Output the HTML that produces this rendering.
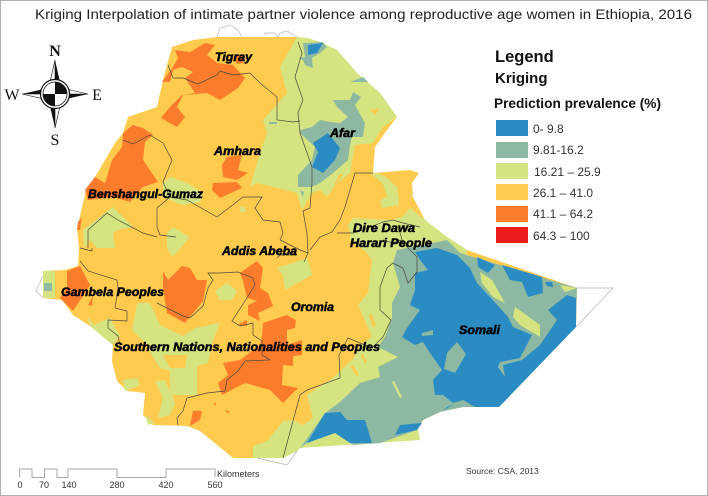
<!DOCTYPE html>
<html><head><meta charset="utf-8"><title>Kriging map</title>
<style>
html,body{margin:0;padding:0;background:#fff;width:708px;height:496px;overflow:hidden}
svg{display:block;font-family:"Liberation Sans",sans-serif}
.y{fill:#fecb4f}.g{fill:#d5e480}.t{fill:#8db9a2}.b{fill:#2b8cc4}.o{fill:#fb7d2c}
.line{fill:none;stroke:#4a4a3c;stroke-width:.7}
.out{fill:none;stroke:#b4b4b4;stroke-width:.7}
.lab{font-weight:bold;font-style:italic;font-size:11.5px;fill:#000;stroke:#000;stroke-width:.5}
.leg{font-size:12px;fill:#333}
.sc{font-size:9px;fill:#333}
</style></head><body>
<svg width="708" height="496" viewBox="0 0 708 496">
<rect x="0.5" y="0.5" width="707" height="495" fill="#fff" stroke="#b0b0b0"/>
<text x="35" y="19" font-size="14.2" fill="#222" textLength="657" lengthAdjust="spacingAndGlyphs">Kriging Interpolation of intimate partner violence among reproductive age women in Ethiopia, 2016</text>

<g>
<polygon class="y" points="172,47 193,40 217,37 297,37 307,38 320,42 337,50 357,73 380,93 397,117 387,130 375,147 373,173 410,170 419,173 412,183 413,197 425,220 447,237 467,250 577,288 576,327 499,407 463,407 440,412 423,420 417,430 397,437 380,443 353,445 335,433 300,448 297,451 283,458 233,458 200,431 187,426 153,425 143,415 145,393 127,391 117,381 112,361 113,345 90,326 73,315 62,300 43,298 43,271 65,270 78,266 79,248 77,230 82,207 86,190 95,177 115,143 123,133 128,117 157,107 163,80"/>

<g>
<polygon class="g" points="297,37 307,38 320,42 337,50 357,73 380,93 397,117 383,127 373,143 355,145 350,173 337,183 327,197 320,190 312,193 302,210 297,193 273,187 257,183 250,187 260,153 267,133 263,120 287,93 280,67"/>
<polygon class="g" points="370,173 380,174 387,178 397,187 399,205 382,208 380,201 387,196 383,184"/>
<polygon class="g" points="402,217 410,208 425,220 447,237 467,250 467,262 420,300 400,330 420,440 300,448 297,451 283,458 253,458 253,446 267,441 283,421 293,420 303,425 313,418 307,395 333,378 354,358 360,345 372,337 358,305 368,293 372,260 367,253 350,240 350,233 348,225 353,218 390,220"/>
<polygon class="g" points="410,190 413,197 411,198"/>
<polygon class="g" points="163,183 170,177 187,183 203,193 200,202 182,205 163,197"/>
<polygon class="g" points="83,230 113,207 123,217 133,227 118,230 113,233 115,248 97,248 90,240 84,248"/>
<polygon class="g" points="167,233 173,227 190,237 178,251 172,257 167,248"/>
<polygon class="g" points="240,207 245,207 245,212 240,212"/>
<polygon class="g" points="137,303 150,303 160,325 183,336 195,328 220,323 213,341 208,363 197,366 197,395 170,395 170,371 160,368 152,355 147,345 132,330 135,315"/>
<polygon class="y" points="163,355 187,355 185,368 170,368"/>
<polygon class="g" points="123,380 137,378 140,385 125,391"/>
<polygon class="g" points="155,381 165,380 175,403 170,415 158,418 163,398"/>
<polygon class="g" points="145,415 155,423 148,425"/>
<polygon class="g" points="87,315 93,325 110,318 120,336 113,345 90,326"/>
<polygon class="g" points="215,291 227,283 237,291 232,300 220,300"/>
<polygon class="g" points="277,268 293,263 307,258 312,275 285,290 283,275"/>
<polygon class="g" points="43,271 55,271 55,298 43,298"/>
</g>

<g>
<polygon class="t" points="397,250 447,240 460,253 577,288 576,327 499,407 463,407 440,412 423,420 417,430 397,437 380,443 353,445 335,433 307,443 300,448 308,437 325,413 340,402 360,383 380,377 378,367 398,357 378,347 385,337 392,318 392,303 400,287 393,263"/>
<polygon class="t" points="303,43 323,42 327,47 320,53 312,58 313,68 305,65 303,60 298,58 305,57"/>
<polygon class="t" points="350,82 363,77 368,82"/>
<polygon class="t" points="333,100 350,100 353,92 361,97 355,105 365,123 363,137 352,137 350,145 348,160 333,173 320,183 312,187 298,187 298,175 312,160 315,147 300,133 300,130 312,127 320,120 330,122 340,123 348,117 337,107"/>
<polygon class="t" points="300,190 304,192 303,197"/>
<polygon class="t" points="44,283 52,283 52,291 44,291"/>
<rect x="269" y="122" width="8" height="2" class="t"/>
</g>

<g>
<polygon class="b" points="415,252 437,248 457,255 470,268 477,283 490,297 500,308 508,317 513,327 532,335 520,358 500,362 498,367 505,377 503,365 522,360 540,345 557,320 548,310 567,295 576,298 576,327 499,407 475,407 463,400 453,403 443,395 435,395 433,380 442,370 430,353 423,342 415,345 402,337 407,328 420,310 410,305 415,290 415,273 428,270 420,260"/>
<polygon class="t" points="457,342 466,354 455,373 444,369 447,353"/>
<polygon class="t" points="422,333 433,330 433,335 422,336"/>
<polygon class="b" points="477,257 495,265 488,273 478,267"/>
<polygon class="b" points="502,265 542,277 543,293 528,297 522,282 510,280"/>
<polygon class="b" points="545,282 552,282 553,287 547,286"/>
<polygon class="g" points="480,272 492,280 505,303 493,297 482,283"/>
<polygon class="g" points="515,307 540,325 540,337 520,325 513,317"/>
<polygon class="g" points="560,285 577,288 565,292"/>
<polygon class="b" points="307,443 325,413 340,412 347,420 365,420 372,443 350,443 335,433"/>
<polygon class="b" points="395,435 400,425 422,423 417,430"/>
<polygon class="b" points="443,411 447,407 454,404"/>
<polygon class="b" points="410,412 420,393 411,410"/>
<polygon class="g" points="392,382 394,381 402,397 400,398"/>
<polygon class="b" points="308,45 323,43 317,53 308,55"/>
<polygon class="b" points="313,143 328,133 340,148 335,160 323,173 312,167 318,152"/>
</g>

<g>
<polygon class="y" points="370,110 380,108 375,115"/>
<polygon class="y" points="340,173 343,175 333,188"/>
<polygon class="y" points="369,315 372,314 376,326 373,327"/>
<polygon class="y" points="361,355 363,354 367,362 365,363"/>
<polygon class="y" points="350,366 353,365 359,375 356,376"/>
</g>

<g>
<polygon class="o" points="175,50 190,52 205,43 215,45 207,55 217,63 233,65 245,78 238,88 220,100 207,93 183,95 177,107 185,117 177,127 161,118 170,107 182,95 195,93 185,78 193,72 182,67 173,70 170,82 162,82 173,67 178,58"/>
<polygon class="o" points="233,57 245,55 243,63 237,64"/>
<polygon class="o" points="133,125 143,128 153,135 145,142 143,160 158,182 143,187 130,202 113,197 88,200 85,190 95,177 105,183 112,160 122,147 123,133"/>
<polygon class="o" points="227,157 242,155 238,170 248,173 237,180 223,177 222,165"/>
<polygon class="o" points="213,183 237,182 242,188 220,198 212,190"/>
<polygon class="o" points="78,222 82,217 80,230 77,230"/>
<polygon class="o" points="67,271 80,266 90,285 77,305 73,311 60,298 67,288"/>
<polygon class="o" points="88,305 93,296 92,306"/>
<polygon class="o" points="163,271 168,280 182,266 190,268 197,280 207,280 203,301 193,313 185,323 167,313 163,288"/>
<polygon class="o" points="240,273 257,261 263,268 260,288 268,293 273,306 258,313 260,321 248,315 248,305 257,301 247,298 243,281"/>
<polygon class="o" points="237,325 247,320 247,326"/>
<polygon class="o" points="263,323 287,315 296,320 295,328 287,330 287,345 302,340 302,355 293,356 293,366 283,365 282,385 298,388 283,403 270,390 245,383 222,395 218,383 228,375 223,363 240,360 260,345 262,336"/>
<polygon class="o" points="193,411 202,411 200,420 190,426"/>
<polygon class="o" points="214,403 216,403 216,405 214,405"/>
<polygon class="o" points="225,410 229,411 229,414"/>
</g>

<g>
<polyline class="line" points="168,65 173,78 183,78 198,84 217,75 220,71 233,75 250,73 260,83 277,97 277,120 293,122 300,121"/>
<polyline class="line" points="298,42 302,53 295,77 303,100 298,113 300,133 312,167 312,183 310,208 303,211 307,233 308,253 304,262"/>
<polyline class="line" points="123,140 133,144 150,135 163,143 172,160 163,182 170,197 157,208 157,227 160,235 176,237"/>
<polyline class="line" points="170,197 187,200 217,217 243,197 262,197 255,208 263,220 280,222 283,233 280,240 300,250 308,253"/>
<polyline class="line" points="88,248 88,230 107,213 118,220 143,233 157,237"/>
<polyline class="line" points="80,248 92,251 92,248"/>
<polyline class="line" points="277,258 280,255 296,255"/>
<polyline class="line" points="80,261 88,271 117,280 118,288 115,308 127,311 127,321 108,320 108,328 118,336 120,345"/>
<polyline class="line" points="157,303 183,316 190,318 203,306 208,288 213,280 208,273 220,273 238,272 253,278 255,285 245,301 232,321 240,326 253,323 253,335 262,341 262,355 270,360 245,361 238,371 227,380 225,391 207,393 187,398 183,411 177,418 178,425"/>
<polyline class="line" points="283,458 300,395 307,390 340,378 339,355 347,340 348,338 372,348 383,337 391,320 380,310 380,287 387,268 393,263 403,268 408,283 417,272 417,257 403,243 400,233"/>
<polyline class="line" points="355,173 373,173"/>
<polyline class="line" points="355,173 345,207 340,220 332,232 320,237 310,250"/>
<polyline class="line" points="337,233 353,233 363,230 383,222 393,220 403,223 420,227"/>
<polyline class="line" points="383,240 393,243 400,240 403,243"/>
<polyline class="out" points="217,37 220,28 230,25 238,30 242,37"/>
<polyline class="out" points="265,35 265,33 275,33 278,37 280,33 287,31 297,37"/>
<polyline class="out" points="577,288 613,288 576,327"/>
<polyline class="out" points="43,276 36,291 43,298"/>
<polyline class="out" points="257,458 287,465 297,451"/>
</g>
</g>

<g>
<text class="lab" x="215" y="61" textLength="37" lengthAdjust="spacingAndGlyphs">Tigray</text>
<text class="lab" x="214" y="155" textLength="47" lengthAdjust="spacingAndGlyphs">Amhara</text>
<text class="lab" x="88" y="198" textLength="115" lengthAdjust="spacingAndGlyphs">Benshangul-Gumaz</text>
<text class="lab" x="330" y="137" textLength="25" lengthAdjust="spacingAndGlyphs">Afar</text>
<text class="lab" x="222" y="255" textLength="75" lengthAdjust="spacingAndGlyphs">Addis Abeba</text>
<text class="lab" x="353" y="232" textLength="62" lengthAdjust="spacingAndGlyphs">Dire Dawa</text>
<text class="lab" x="350" y="247" textLength="82" lengthAdjust="spacingAndGlyphs">Harari People</text>
<text class="lab" x="61" y="296" textLength="103" lengthAdjust="spacingAndGlyphs">Gambela Peoples</text>
<text class="lab" x="291" y="311" textLength="43" lengthAdjust="spacingAndGlyphs">Oromia</text>
<text class="lab" x="114" y="351" textLength="266" lengthAdjust="spacingAndGlyphs">Southern Nations, Nationalities and Peoples</text>
<text class="lab" x="459" y="334" textLength="41" lengthAdjust="spacingAndGlyphs">Somali</text>
</g>

<g>
<polygon points="55,60 50,82 60,82" fill="#111"/><polygon points="55,60 55,82 50,82" fill="#fff" stroke="#111" stroke-width=".6"/>
<polygon points="55,128 50,106 60,106" fill="#111"/><polygon points="55,128 55,106 60,106" fill="#fff" stroke="#111" stroke-width=".6"/>
<polygon points="22,94 44,89 44,99" fill="#111"/><polygon points="22,94 44,94 44,99" fill="#fff" stroke="#111" stroke-width=".6"/>
<polygon points="88,94 66,89 66,99" fill="#111"/><polygon points="88,94 66,94 66,89" fill="#fff" stroke="#111" stroke-width=".6"/>
<circle cx="55" cy="94" r="14.5" fill="#fff" stroke="#111" stroke-width="1.2"/>
<path d="M55,94V82A12,12 0 0 1 67,94Z M55,94V106A12,12 0 0 1 43,94Z" fill="#111"/>
<circle cx="55" cy="94" r="12" fill="none" stroke="#111" stroke-width=".8"/>
<text x="55" y="56" text-anchor="middle" font-family="Liberation Serif,serif" font-size="16" font-weight="bold" fill="#111">N</text>
<text x="55" y="145" text-anchor="middle" font-family="Liberation Serif,serif" font-size="16" fill="#111">S</text>
<text x="12" y="100" text-anchor="middle" font-family="Liberation Serif,serif" font-size="16" fill="#111">W</text>
<text x="97" y="100" text-anchor="middle" font-family="Liberation Serif,serif" font-size="16" fill="#111">E</text>
</g>

<g>
<text x="495" y="62" font-size="16.5" font-weight="bold" fill="#111">Legend</text>
<text x="495" y="83" font-size="15" font-weight="bold" fill="#111">Kriging</text>
<text x="494" y="108" font-size="14" font-weight="bold" fill="#111" textLength="167" lengthAdjust="spacingAndGlyphs">Prediction prevalence (%)</text>
<rect x="496" y="120" width="32" height="16" fill="#2b8cc4"/>
<rect x="496" y="142" width="32" height="16" fill="#8db9a2"/>
<rect x="496" y="163" width="32" height="16" fill="#d5e480"/>
<rect x="496" y="184" width="32" height="16" fill="#fecb4f"/>
<rect x="496" y="206" width="32" height="16" fill="#fb7d2c"/>
<rect x="496" y="227" width="32" height="16" fill="#ec1c1c"/>
<text class="leg" x="533" y="133">0- 9.8</text>
<text class="leg" x="533" y="154">9.81-16.2</text>
<text class="leg" x="534" y="176">16.21 – 25.9</text>
<text class="leg" x="533" y="197">26.1 – 41.0</text>
<text class="leg" x="533" y="218">41.1 – 64.2</text>
<text class="leg" x="533" y="240">64.3 – 100</text>
</g>

<g>
<polyline points="19.5,477 19.5,469 32,469 32,477.5 44.5,477.5 44.5,469 57,469 57,477.5 68,477.5 68,469 117,469 117,477.5 166,477.5 166,469 215,469 215,477" fill="none" stroke="#a5a5a5" stroke-width="1"/>
<text class="sc" x="217" y="477">Kilometers</text>
<text class="sc" x="20" y="488" text-anchor="middle">0</text>
<text class="sc" x="44" y="488" text-anchor="middle">70</text>
<text class="sc" x="69" y="488" text-anchor="middle">140</text>
<text class="sc" x="117" y="488" text-anchor="middle">280</text>
<text class="sc" x="166" y="488" text-anchor="middle">420</text>
<text class="sc" x="215" y="488" text-anchor="middle">560</text>
</g>
<text x="466" y="474" font-size="8.5" fill="#333">Source: CSA, 2013</text>
</svg>
</body></html>
